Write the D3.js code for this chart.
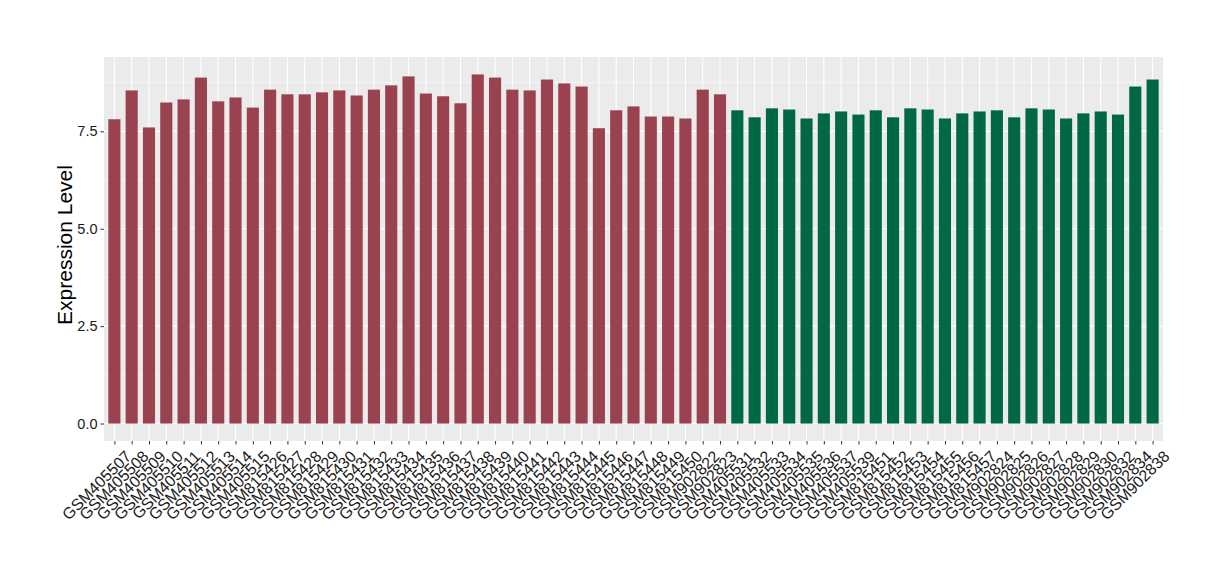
<!DOCTYPE html>
<meta charset="utf-8">
<script src="https://d3js.org/d3.v7.min.js"></script>
<style>
  body { margin: 0; background: #fff; }
  text { font-family: "Liberation Sans", Arial, sans-serif; }
</style>
<div id="chart"></div>
<script>
// samples, first group (red) then second group (green)
var samplesA = ["GSM405507","GSM405508","GSM405509","GSM405510","GSM405511","GSM405512","GSM405513","GSM405514","GSM405515",
  "GSM815426","GSM815427","GSM815428","GSM815429","GSM815430","GSM815431","GSM815432","GSM815433","GSM815434","GSM815435",
  "GSM815436","GSM815437","GSM815438","GSM815439","GSM815440","GSM815441","GSM815442","GSM815443","GSM815444","GSM815445",
  "GSM815446","GSM815447","GSM815448","GSM815449","GSM815450","GSM902822","GSM902823"];
var valuesA = [7.81,8.55,7.60,8.24,8.32,8.88,8.27,8.37,8.11,8.57,8.45,8.45,8.50,8.55,8.42,8.57,8.68,8.91,
  8.47,8.40,8.22,8.96,8.88,8.57,8.55,8.83,8.73,8.65,7.58,8.04,8.14,7.88,7.88,7.83,8.57,8.45];

var samplesB = ["GSM405531","GSM405532","GSM405533","GSM405534","GSM405535","GSM405536","GSM405537","GSM405539",
  "GSM815451","GSM815452","GSM815453","GSM815454","GSM815455","GSM815456","GSM815457",
  "GSM902824","GSM902825","GSM902826","GSM902827","GSM902828","GSM902829","GSM902830","GSM902832","GSM902834","GSM902838"];
var valuesB = [8.04,7.86,8.09,8.06,7.83,7.96,8.01,7.93,8.04,7.86,8.09,8.06,7.83,7.96,8.01,
  8.04,7.86,8.09,8.06,7.83,7.96,8.01,7.93,8.65,8.83];

var yTicks = [0, 2.5, 5, 7.5];
var colorA = "#9A4250", colorB = "#006845";

var data = samplesA.map(function(s, i) { return {name: s, value: valuesA[i], color: colorA}; })
  .concat(samplesB.map(function(s, i) { return {name: s, value: valuesB[i], color: colorB}; }));

var W = 1220, H = 580;
var margin = {top: 57, right: 57, bottom: 139, left: 104};
var width = W - margin.left - margin.right,
    height = H - margin.top - margin.bottom;

var svg = d3.select("#chart").append("svg")
    .attr("width", W).attr("height", H);

var g = svg.append("g")
    .attr("transform", "translate(" + margin.left + "," + margin.top + ")");

// discrete scale with ggplot-like 0.6 expansion
var n = data.length;
var step = width / (n - 1 + 1.2);
var x = d3.scalePoint()
    .domain(data.map(function(d) { return d.name; }))
    .range([0.6 * step, width - 0.6 * step]);

var maxV = d3.max(data, function(d) { return d.value; });
var y = d3.scaleLinear()
    .domain([-0.05 * maxV, maxV * 1.05])
    .range([height, 0]);

// panel
g.append("rect").attr("width", width).attr("height", height).attr("fill", "#EBEBEB");

// minor grid
var minor = [1.25, 3.75, 6.25, 8.75];
g.selectAll(".minor").data(minor).enter().append("line")
    .attr("x1", 0).attr("x2", width)
    .attr("y1", function(d) { return y(d); }).attr("y2", function(d) { return y(d); })
    .attr("stroke", "#fff").attr("stroke-width", 0.55);

// major grid
g.selectAll(".major").data(yTicks).enter().append("line")
    .attr("x1", 0).attr("x2", width)
    .attr("y1", function(d) { return y(d); }).attr("y2", function(d) { return y(d); })
    .attr("stroke", "#fff").attr("stroke-width", 1.1);

g.selectAll(".vgrid").data(data).enter().append("line")
    .attr("x1", function(d) { return x(d.name); }).attr("x2", function(d) { return x(d.name); })
    .attr("y1", 0).attr("y2", height)
    .attr("stroke", "#fff").attr("stroke-width", 1.1);

// bars
var bw = step * 0.7;
g.selectAll(".bar").data(data).enter().append("rect")
    .attr("x", function(d) { return x(d.name) - bw / 2; })
    .attr("width", bw)
    .attr("y", function(d) { return y(d.value); })
    .attr("height", function(d) { return y(0) - y(d.value); })
    .attr("fill", function(d) { return d.color; });

// y axis
var yAxis = g.append("g").call(d3.axisLeft(y).tickValues(yTicks).tickSize(3.5).tickPadding(3)
    .tickFormat(d3.format(".1f")));
yAxis.select(".domain").remove();
yAxis.selectAll("line").attr("stroke", "#333");
yAxis.selectAll("text").attr("fill", "#1a1a1a").style("font-size", "14.5px");

// x axis
var xAxis = g.append("g").attr("transform", "translate(0," + height + ")")
    .call(d3.axisBottom(x).tickSize(3.5).tickPadding(2));
xAxis.select(".domain").remove();
xAxis.selectAll("line").attr("stroke", "#333");
xAxis.selectAll("text")
    .attr("fill", "#1a1a1a")
    .style("font-size", "16px")
    .attr("text-anchor", "end")
    .attr("dy", "0.75em")
    .attr("transform", "translate(5,4) rotate(-45)");

// y title
svg.append("text")
    .attr("transform", "translate(72," + (margin.top + height / 2 - 4) + ") rotate(-90)")
    .attr("text-anchor", "middle")
    .style("font-size", "21px")
    .attr("fill", "#000")
    .text("Expression Level");
</script>
